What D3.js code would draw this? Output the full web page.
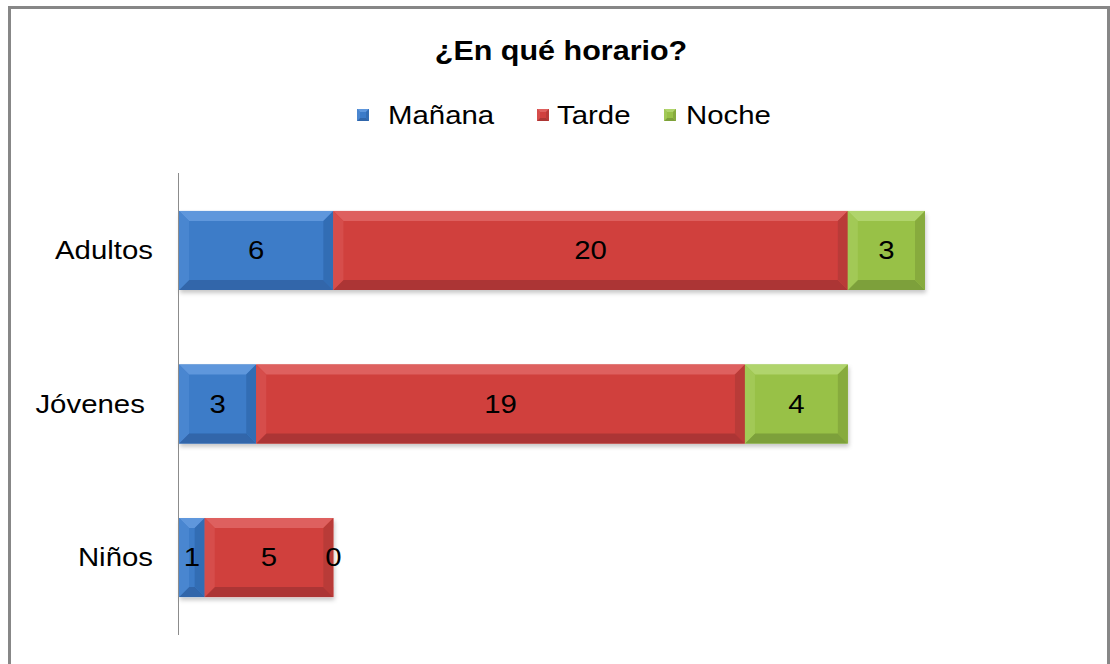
<!DOCTYPE html>
<html>
<head>
<meta charset="utf-8">
<script src="https://cdn.jsdelivr.net/npm/d3@7"></script>
<style>
  body { margin: 0; background: #fff; }
  text { font-family: "Liberation Sans", Arial, sans-serif; fill: #000; }
</style>
</head>
<body>
<script>
// chart data
var categories = ["Adultos", "Jóvenes", "Niños"];
var seriesNames = ["Mañana", "Tarde", "Noche"];
var manana = [6, 3, 1];
var tarde = [20, 19, 5];
var noche = [3, 4, 0];

var width = 1110, height = 664;
var stretch = 1.13; // text in the picture is a bit wide

var colors = {
  "Mañana": { face: "#3c7bc8", top: "#5f97dc", bottom: "#3066aa", left: "#4a86d0", right: "#336db4" },
  "Tarde":  { face: "#d0403e", top: "#de605e", bottom: "#ac3634", left: "#d64d4b", right: "#b93a38" },
  "Noche":  { face: "#98c147", top: "#b0d46c", bottom: "#7da03a", left: "#a2c957", right: "#87ab3e" }
};

var svg = d3.select("body").append("svg")
  .attr("width", width)
  .attr("height", height);

var defs = svg.append("defs");
var shadow = defs.append("filter").attr("id", "shadow")
  .attr("x", "-5%").attr("y", "-10%").attr("width", "115%").attr("height", "130%");
shadow.append("feDropShadow").attr("dx", 1).attr("dy", 3).attr("stdDeviation", 2)
  .attr("flood-color", "#000").attr("flood-opacity", 0.22);

/* outer frame */
svg.append("rect")
  .attr("x", 9.5).attr("y", 7.5)
  .attr("width", 1099).attr("height", 690)
  .attr("fill", "none")
  .attr("stroke", "#878787")
  .attr("stroke-width", 3);

function stext(x, y, str, size, anchor, weight) {
  return svg.append("text")
    .attr("transform", "translate(" + x + "," + y + ") scale(" + stretch + ",1)")
    .attr("text-anchor", anchor || "middle")
    .attr("dominant-baseline", "central")
    .style("font-size", size + "px")
    .style("font-weight", weight || "normal")
    .style("white-space", "pre")
    .text(str);
}

/* title */
stext(561, 51, "¿En qué horario?", 27, "middle", "bold");

/* scales */
var x = d3.scaleLinear().domain([0, 29]).range([179, 925]);
var y = d3.scaleBand().domain(categories).range([173, 635])
  .paddingInner(0.485).paddingOuter(0.247);

/* stacked data */
var rows = categories.map(function(c, i) {
  return { cat: c, "Mañana": manana[i], "Tarde": tarde[i], "Noche": noche[i] };
});
var stack = d3.stack().keys(seriesNames)(rows);

function bevelBar(g, x0, x1, y0, h, col, bev) {
  var w = x1 - x0;
  var b = Math.min(bev, w / 2, h / 2);
  g.append("rect").attr("x", x0).attr("y", y0).attr("width", w).attr("height", h)
    .attr("fill", col.face);
  var pts = function(a) { return a.map(function(p) { return p.join(","); }).join(" "); };
  g.append("polygon").attr("fill", col.top)
    .attr("points", pts([[x0, y0], [x1, y0], [x1 - b, y0 + b], [x0 + b, y0 + b]]));
  g.append("polygon").attr("fill", col.bottom)
    .attr("points", pts([[x0, y0 + h], [x1, y0 + h], [x1 - b, y0 + h - b], [x0 + b, y0 + h - b]]));
  g.append("polygon").attr("fill", col.left)
    .attr("points", pts([[x0, y0], [x0 + b, y0 + b], [x0 + b, y0 + h - b], [x0, y0 + h]]));
  g.append("polygon").attr("fill", col.right)
    .attr("points", pts([[x1, y0], [x1 - b, y0 + b], [x1 - b, y0 + h - b], [x1, y0 + h]]));
}

var barLayer = svg.append("g").attr("filter", "url(#shadow)");
stack.forEach(function(layer) {
  var col = colors[layer.key];
  layer.forEach(function(d) {
    if (d[1] - d[0] <= 0) return;
    bevelBar(barLayer, x(d[0]), x(d[1]), y(d.data.cat), y.bandwidth(), col, 10);
  });
});

/* value labels */
stack.forEach(function(layer) {
  layer.forEach(function(d) {
    var v = d[1] - d[0];
    stext(x((d[0] + d[1]) / 2), y(d.data.cat) + y.bandwidth() / 2, String(v), 26, "middle");
  });
});

/* axis line */
svg.append("line")
  .attr("x1", 178.5).attr("x2", 178.5)
  .attr("y1", 173).attr("y2", 635)
  .attr("stroke", "#8c8c8c").attr("stroke-width", 1);

/* category labels */
var catLabels = { "Adultos": "Adultos", "Jóvenes": "Jóvenes ", "Niños": "Niños" };
categories.forEach(function(c) {
  stext(153, y(c) + y.bandwidth() / 2, catLabels[c], 26, "end");
});

/* legend */
var legendPos = [
  { key: "Mañana", mx: 357, tx: 388 },
  { key: "Tarde", mx: 537, tx: 557 },
  { key: "Noche", mx: 664, tx: 686 }
];
legendPos.forEach(function(l) {
  bevelBar(svg, l.mx, l.mx + 12, 109, 12, colors[l.key], 3);
  stext(l.tx, 115, l.key, 26, "start");
});
</script>
</body>
</html>
